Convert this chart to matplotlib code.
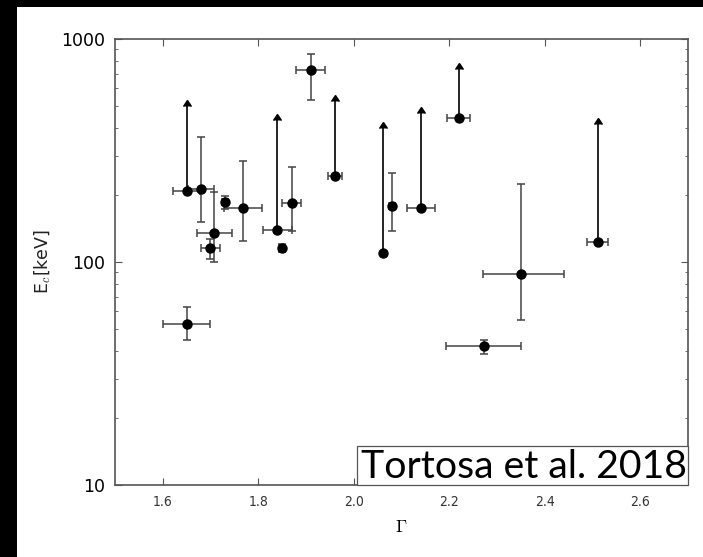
import matplotlib
matplotlib.use('Agg')
import matplotlib.pyplot as plt
from matplotlib.patches import Rectangle

# points with two-sided error bars
gam = [1.68, 1.70, 1.708, 1.731, 1.768, 1.85, 1.87, 1.91, 2.08, 2.35, 1.65, 2.272]
gam_lo = [0.028, 0.02, 0.036, 0.006, 0.04, 0.006, 0.02, 0.03, 0.006, 0.08, 0.049, 0.079]
gam_hi = [0.028, 0.02, 0.036, 0.006, 0.04, 0.006, 0.02, 0.03, 0.006, 0.09, 0.049, 0.079]
ec = [213, 116, 135, 185, 174, 115, 183, 725, 178, 88.7, 52.5, 41.9]
ec_min = [151, 103, 100, 172, 124, 111, 138, 531, 138, 55, 44.9, 38.7]
ec_max = [362, 127, 206, 198, 285, 120, 267, 855, 251, 223, 63, 44.9]

# lower limits (arrows)
gam_l = [1.65, 1.84, 1.961, 2.061, 2.141, 2.22, 2.511]
gam_l_err = [0.028, 0.031, 0.015, 0.0, 0.03, 0.024, 0.022]
ec_l = [209, 139, 242, 110, 174, 443, 123]
ec_l_top = [502, 432, 528, 399, 466, 732, 416]

plt.rcParams['mathtext.fontset'] = 'cm'

W, H = 703, 557
fig = plt.figure(figsize=(W/100, H/100), dpi=100)
fig.patch.set_facecolor('black')
fig.patches.append(Rectangle((17/W, 0), 1, 1 - 7/H, transform=fig.transFigure,
                             facecolor='white', edgecolor='none', zorder=-10))

ax = fig.add_axes([115/W, 1 - 485/H, (688 - 115)/W, (485 - 39)/H])

yerr = [[e - lo for e, lo in zip(ec, ec_min)], [hi - e for e, hi in zip(ec, ec_max)]]
ax.errorbar(gam, ec, yerr=yerr, xerr=[gam_lo, gam_hi], fmt='o', color='black',
            ecolor='#444444', elinewidth=1.1, capsize=3, capthick=1.1, markersize=6.5)

yerr_l = [[0]*len(ec_l), [t - e for e, t in zip(ec_l, ec_l_top)]]
ax.errorbar(gam_l, ec_l, yerr=yerr_l, lolims=True, fmt='o', color='black',
            ecolor='black', elinewidth=1.2, capsize=3, markersize=6.5)
ax.errorbar(gam_l, ec_l, xerr=gam_l_err, fmt='none', ecolor='#444444',
            elinewidth=1.1, capsize=3, capthick=1.1)

ax.set_yscale('log')
ax.set_xlim(1.5, 2.7)
ax.set_ylim(10, 1000)
ax.set_xticks([1.6, 1.8, 2.0, 2.2, 2.4, 2.6])
ax.set_xticklabels(['1.6', '1.8', '2.0', '2.2', '2.4', '2.6'], fontsize=10,
                   fontstretch='condensed', color='#333333')
ax.set_yticks([10, 100, 1000])
ax.set_yticklabels(['10', '100', '1000'], fontsize=12.5)
ax.tick_params(which='both', direction='in', top=True, right=True, color='#555555')
ax.tick_params(which='major', length=5, pad=7)
ax.tick_params(which='minor', length=2.5)
for s in ax.spines.values():
    s.set_color('#555555')
    s.set_linewidth(1.2)

fig.text(43/W, 1 - 262/H, r'E$_c$[keV]', rotation=90, ha='center', va='center',
         fontsize=12.5, color='#222222')
fig.text(401/W, 1 - 527/H, r'$\Gamma$', ha='center', va='center', fontsize=13)

# label box pasted in the lower right corner
fig.patches.append(Rectangle((357/W, 1 - 485/H), (688 - 357)/W, (485 - 446)/H,
                             transform=fig.transFigure, facecolor='white',
                             edgecolor='#555555', linewidth=0.9, zorder=5))
fig.text(687/W, 1 - 478/H, 'Tortosa et al. 2018', ha='right', va='baseline',
         fontsize=28.3, family='Lato', color='black', zorder=6)

fig.savefig('out.png', dpi=100, facecolor=fig.get_facecolor())
